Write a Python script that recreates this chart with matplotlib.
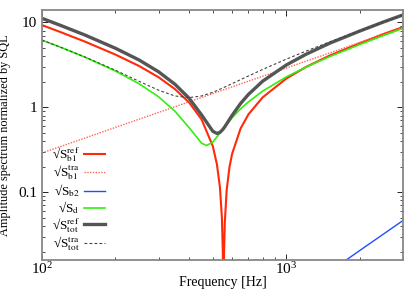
import numpy as np
import matplotlib
matplotlib.use("Agg")
import matplotlib.pyplot as plt
from matplotlib.ticker import FixedLocator, FixedFormatter, LogLocator, NullFormatter

plt.rcParams['font.family'] = ['Liberation Serif', 'DejaVu Serif']
plt.rcParams['mathtext.fontset'] = 'stix'

freq = [100, 120, 150, 200, 250, 300, 350, 400, 450, 500, 520, 535, 545, 550,
        553, 556, 560, 570, 585, 600, 650, 700, 800, 1000, 1200, 1500, 2000, 2500, 3000]

b1_ref = [9.29, 7.62, 5.93, 4.17, 3.06, 2.26, 1.64, 1.14, 0.72, 0.35, 0.213, 0.114, 0.050, 0.0185,
          0.001, 0.019, 0.044, 0.106, 0.196, 0.284, 0.564, 0.827, 1.31, 2.18, 2.97, 4.05, 5.7, 7.3, 8.8]

d_freq = [100, 120, 150, 200, 250, 300, 350, 400, 450, 472, 500, 550, 600, 650, 700,
          800, 1000, 1200, 1500, 2000, 2500, 3000]
d_noise = [6.18, 5.05, 3.89, 2.67, 1.89, 1.33, 0.90, 0.577, 0.378, 0.355, 0.389, 0.55, 0.752, 0.96, 1.16,
           1.55, 2.28, 2.96, 3.94, 5.49, 7.00, 8.49]

tra_freq = [100, 300, 1000, 3000]
b1_tra = [0.29, 0.87, 2.9, 8.7]

b2_freq = [1700, 2000, 2500, 3000]
b2_noise = [0.0149, 0.0207, 0.0323, 0.0465]

tot_freq = [100, 120, 150, 200, 250, 300, 350, 400, 450, 500, 520, 535, 550, 560,
            600, 650, 700, 800, 1000, 1200, 1500, 2000, 2500, 3000]
tot_ref = [11.16, 9.14, 7.09, 4.95, 3.60, 2.62, 1.87, 1.28, 0.813, 0.523, 0.492, 0.507, 0.55, 0.59,
           0.804, 1.11, 1.42, 2.03, 3.15, 4.19, 5.66, 7.91, 10.11, 12.23]

tra_tot_freq = [100, 120, 150, 200, 250, 300, 350, 400, 450, 500, 550, 600, 700,
                800, 1000, 1200, 1500, 2000, 2500, 3000]
tot_tra = [6.19, 5.06, 3.91, 2.73, 2.02, 1.59, 1.36, 1.30, 1.36, 1.50, 1.69, 1.90, 2.34,
           2.79, 3.69, 4.57, 5.87, 7.98, 10.08, 12.16]

fig = plt.figure(figsize=(4.15, 2.92), dpi=100)
ax = fig.add_axes([0.101, 0.11, 0.87, 0.856])

ax.plot(freq, b1_ref, color='#ff2a0a', lw=1.5, label=r'√S$_{\mathrm{b1}}^{\mathrm{ref}}$')
ax.plot(tra_freq, b1_tra, color='#ff6655', lw=1.0, ls=(0, (1, 1)), label=r'√S$_{\mathrm{b1}}^{\mathrm{tra}}$')
ax.plot(b2_freq, b2_noise, color='#1f4fff', lw=1.0, label=r'√S$_{\mathrm{b2}}$')
ax.plot(d_freq, d_noise, color='#33ee11', lw=1.2, label=r'√S$_{\mathrm{d}}$')
ax.plot(tot_freq, tot_ref, color='#555555', lw=2.4, label=r'√S$_{\mathrm{tot}}^{\mathrm{ref}}$')
ax.plot(tra_tot_freq, tot_tra, color='#444444', lw=0.8, ls=(0, (2.5, 2)), label=r'√S$_{\mathrm{tot}}^{\mathrm{tra}}$')

ax.set_xscale('log')
ax.set_yscale('log')
ax.set_xlim(100, 3000)
ax.set_ylim(0.016, 14)

ax.yaxis.set_major_locator(FixedLocator([0.1, 1, 10]))
ax.yaxis.set_major_formatter(FixedFormatter(['0.1', '1', '10']))
ax.yaxis.set_minor_locator(LogLocator(base=10, subs=np.arange(2, 10)))
ax.yaxis.set_minor_formatter(NullFormatter())
ax.xaxis.set_minor_locator(LogLocator(base=10, subs=np.arange(2, 10)))
ax.xaxis.set_minor_formatter(NullFormatter())

ax.tick_params(which='both', direction='in', top=True, right=True, labelsize=11)
ax.tick_params(axis='x', pad=1)
ax.tick_params(which='major', length=4, width=0.6)
ax.tick_params(which='minor', length=2, width=0.5)
for s in ax.spines.values():
    s.set_color('#888888')
    s.set_linewidth(1.3)

ax.set_xlabel('Frequency [Hz]', fontsize=10, labelpad=-1)
ax.set_ylabel('Amplitude spectrum normalized by SQL', fontsize=8.8, labelpad=5)

ax.legend(loc='lower left', bbox_to_anchor=(0.01, 0.0), frameon=False, markerfirst=False,
          fontsize=9.5, handlelength=1.6, handletextpad=0.3, labelspacing=0.0, borderaxespad=0.1)

fig.savefig('out.png', dpi=100)
